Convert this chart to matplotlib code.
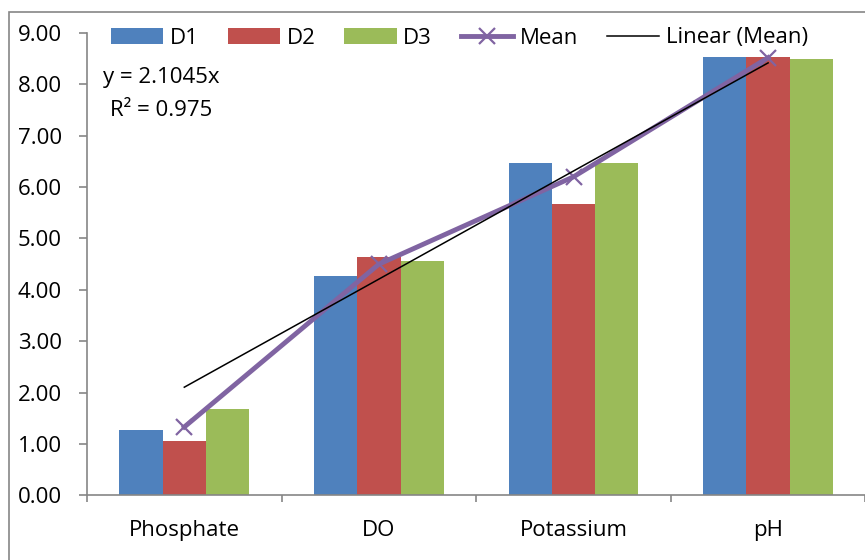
import numpy as np
import matplotlib
matplotlib.use("Agg")
import matplotlib.pyplot as plt
from matplotlib.patches import Rectangle

plt.rcParams['font.family'] = ['Open Sans', 'DejaVu Sans']

# ---- data ----
categories = ['Phosphate', 'DO', 'Potassium', 'pH']
d1 = [1.27, 4.27, 6.46, 8.53]
d2 = [1.05, 4.64, 5.67, 8.53]
d3 = [1.68, 4.56, 6.46, 8.50]
mean = [1.33, 4.50, 6.20, 8.52]
slope = 2.1045   # linear trendline through origin
r2 = 0.975

blue = '#4F81BD'
red = '#C0504D'
green = '#9BBB59'
purple = '#8064A2'
grey = '#868686'
fs = 16

W, H = 865, 560
fig = plt.figure(figsize=(W / 100, H / 100), dpi=100)
ax = fig.add_axes([87 / W, 1 - 495.3 / H, (865.4 - 87) / W, (495.3 - 33) / H])

x = np.arange(len(categories))
w = 1 / 4.5
b1 = ax.bar(x - w, d1, w, color=blue, label='D1')
b2 = ax.bar(x, d2, w, color=red, label='D2')
b3 = ax.bar(x + w, d3, w, color=green, label='D3')

ln_mean, = ax.plot(x, mean, color=purple, lw=3.5, marker='x', ms=12, mew=1.6,
                   label='Mean', zorder=4)
xs = np.array([x[0], x[-1]])
ln_trend, = ax.plot(xs, slope * (xs + 1), color='black', lw=1.1, zorder=5,
                    label='Linear (Mean)')

ax.set_xlim(-0.5, len(categories) - 0.5)
ax.set_ylim(0, 9)
ax.set_yticks(np.arange(0, 10, 1))
ax.set_yticklabels([f'{v:.2f}' for v in np.arange(0, 10, 1)], fontsize=fs)
ax.set_xticks(x)
ax.set_xticklabels(categories, fontsize=fs)
ax.set_xticks(np.arange(-0.5, len(categories), 1), minor=True)

for s in ['top', 'right']:
    ax.spines[s].set_visible(False)
for s in ['left', 'bottom']:
    ax.spines[s].set_color(grey)
    ax.spines[s].set_linewidth(1.2)
ax.tick_params(axis='y', length=6, width=1.2, color=grey, pad=12)
ax.tick_params(axis='x', which='major', length=0, pad=18)
ax.tick_params(axis='x', which='minor', length=5, width=1.2, color=grey)

# trendline equation
fig.text(161 / W, 1 - 77 / H, 'y = 2.1045x', ha='center', va='center', fontsize=fs)
fig.text(161 / W, 1 - 110 / H, f'R² = {r2}', ha='center', va='center', fontsize=fs)

# legend
fig.legend([b1, b2, b3, ln_mean, ln_trend],
           ['D1', 'D2', 'D3', 'Mean', 'Linear (Mean)'],
           loc='center left', bbox_to_anchor=(111 / W, 1 - 38 / H),
           ncol=5, frameon=False, fontsize=fs, borderpad=0, borderaxespad=0,
           handlelength=2.35, handleheight=0.7, handletextpad=0.3,
           columnspacing=1.3)

# outer chart border (cut off on the right and bottom)
fig.patches.append(Rectangle((9 / W, -0.1), 1.2, 1 - 12 / H + 0.1,
                             transform=fig.transFigure, fill=False,
                             edgecolor=grey, lw=1.2))

fig.savefig('out.png', dpi=100)
